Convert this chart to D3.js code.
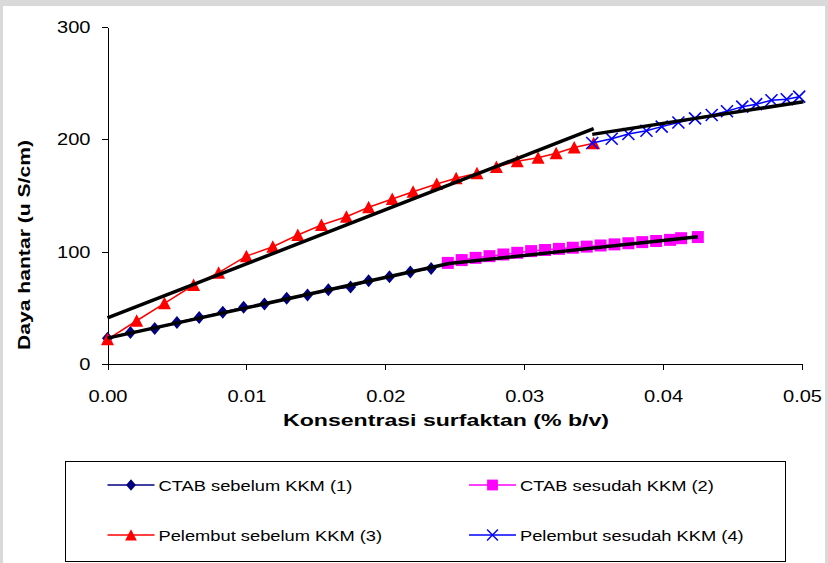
<!DOCTYPE html>
<html>
<head>
<meta charset="utf-8">
<script src="https://cdn.jsdelivr.net/npm/d3@7"></script>
<style>
  html, body { margin: 0; padding: 0; background: #d9d9d9; }
  svg { display: block; font-family: Arial, "Liberation Sans", sans-serif; }
</style>
</head>
<body>
<div class="container"></div>
<script>
// CTAB sebelum KKM (1)
const ctab1X = [0, 0.00165, 0.0034, 0.005, 0.0066, 0.0083, 0.0098, 0.0113, 0.0129, 0.0144, 0.0159, 0.0175, 0.0188, 0.0203, 0.0218, 0.0233];
const ctab1Y = [23, 28, 31.5, 37, 41.5, 46, 50.5, 53.5, 58.5, 61.5, 66, 68.5, 74, 77.7, 82, 85];
// CTAB sesudah KKM (2)
const ctab2X = [0.0245, 0.0255, 0.0265, 0.0275, 0.0285, 0.0295, 0.0305, 0.0315, 0.0325, 0.0335, 0.0345, 0.0355, 0.0365, 0.0375, 0.0385, 0.0395, 0.0405, 0.0413, 0.0425];
const ctab2Y = [90, 92.5, 94.5, 96, 97.5, 99, 100.5, 101.5, 102.5, 103.5, 104.5, 105.5, 106.5, 107.5, 108.5, 109.5, 110.5, 112, 113];
// Pelembut sebelum KKM (3)
const pel1X = [0, 0.0021, 0.0041, 0.0062, 0.008, 0.01, 0.0119, 0.0137, 0.0154, 0.0172, 0.0188, 0.0205, 0.022, 0.0237, 0.0251, 0.0266, 0.028, 0.0295, 0.031, 0.0323, 0.0336, 0.035];
const pel1Y = [22, 38.5, 54, 70.3, 81.3, 96, 104.4, 114.8, 123.7, 131.1, 139.5, 146.9, 153.4, 160.2, 165.3, 169.8, 175.4, 180.5, 183.6, 187.6, 192.7, 196.5];
// Pelembut sesudah KKM (4)
const pel2X = [0.0349, 0.0363, 0.0375, 0.0388, 0.0399, 0.0411, 0.0423, 0.0435, 0.0446, 0.0457, 0.0467, 0.0478, 0.0489, 0.0498];
const pel2Y = [196.7, 200.5, 204.8, 207.6, 211.3, 215, 218.7, 221.7, 225, 229.1, 231.3, 234.8, 235.7, 238];
// trendlines, [start, end] points
const trend1 = [[0, 23], [0.0246, 89.5]];
const trend2 = [[0.0246, 89.5], [0.0425, 113.3]];
const trend3 = [[0, 41], [0.035, 209.5]];
const trend4 = [[0.0349, 204.4], [0.0501, 233.5]];

const xTicks = [0, 0.01, 0.02, 0.03, 0.04, 0.05];
const yTicks = [0, 100, 200, 300];
const legendNames = ["CTAB sebelum KKM (1)", "CTAB sesudah KKM (2)", "Pelembut sebelum KKM (3)", "Pelembut sesudah KKM (4)"];

const w = 828, h = 563;
const stretch = 1.18;

const svg = d3.select("div.container").append("svg").attr("width", w).attr("height", h);
svg.append("rect").attr("x", 3).attr("y", 6).attr("width", 822).attr("height", h - 6).attr("fill", "#fff");

const xScale = d3.scaleLinear().domain([0, 0.05]).range([107.5, 802]);
const yScale = d3.scaleLinear().domain([0, 300]).range([364, 27]);

const fitText = (sel, k) => sel.each(function () {
    const len = this.getComputedTextLength();
    d3.select(this).attr("textLength", len * k).attr("lengthAdjust", "spacingAndGlyphs");
});

// axes
const gx = svg.append("g").attr("transform", "translate(0," + yScale(0) + ")")
    .call(d3.axisBottom(xScale).tickValues(xTicks).tickFormat(d3.format(".2f")).tickSize(6).tickSizeOuter(0).tickPadding(20));
const gy = svg.append("g").attr("transform", "translate(" + xScale(0) + ",0)")
    .call(d3.axisLeft(yScale).tickValues(yTicks).tickSize(6).tickSizeOuter(0).tickPadding(11));
[gx, gy].forEach(g => {
    g.selectAll("path, line").attr("stroke", "#000").attr("shape-rendering", "crispEdges");
    g.selectAll("text").attr("font-size", 17).attr("fill", "#000").attr("font-family", "Arial, 'Liberation Sans', sans-serif").call(fitText, stretch);
});

svg.append("text").attr("x", 446).attr("y", 426).attr("text-anchor", "middle")
    .attr("font-size", 16.5).attr("font-weight", "bold").attr("textLength", 326).attr("lengthAdjust", "spacingAndGlyphs")
    .text("Konsentrasi surfaktan (% b/v)");
svg.append("text").attr("transform", "translate(30,245) rotate(-90)").attr("text-anchor", "middle")
    .attr("font-size", 16.5).attr("font-weight", "bold").attr("textLength", 210).attr("lengthAdjust", "spacingAndGlyphs")
    .text("Daya hantar (u S/cm)");

// markers
const diamond = "M0,-6.5L5.5,0L0,6.5L-5.5,0Z";
const square = "M-6,-6H6V6H-6Z";
const triangle = "M0,-6.5L6.5,6L-6.5,6Z";
const cross = "M-6,-6L6,6M-6,6L6,-6";

const series = [
    { xs: ctab1X, ys: ctab1Y, color: "#000080", marker: diamond, filled: true },
    { xs: ctab2X, ys: ctab2Y, color: "#ff00ff", marker: square, filled: true },
    { xs: pel1X, ys: pel1Y, color: "#ff0000", marker: triangle, filled: true },
    { xs: pel2X, ys: pel2Y, color: "#0000ff", marker: cross, filled: false }
];

const line = d3.line().x(d => xScale(d[0])).y(d => yScale(d[1]));

series.forEach(s => {
    const pts = s.xs.map((x, i) => [x, s.ys[i]]);
    svg.append("path").datum(pts).attr("d", line).attr("fill", "none").attr("stroke", s.color).attr("stroke-width", 1.5);
    svg.selectAll(null).data(pts).enter().append("path")
        .attr("transform", d => "translate(" + xScale(d[0]) + "," + yScale(d[1]) + ")")
        .attr("d", s.marker)
        .attr("fill", s.filled ? s.color : "none")
        .attr("stroke", s.filled ? "none" : s.color)
        .attr("stroke-width", 1.6);
});

[trend1, trend2, trend3, trend4].forEach(t => {
    svg.append("path").datum(t).attr("d", line).attr("fill", "none").attr("stroke", "#000").attr("stroke-width", 3.5);
});

// legend
svg.append("rect").attr("x", 65.5).attr("y", 461.5).attr("width", 720).attr("height", 100)
    .attr("fill", "#fff").attr("stroke", "#000").attr("stroke-width", 1);
const legendPos = [[107.5, 485], [469, 485], [107.5, 535], [469, 535]];
series.forEach((s, i) => {
    const [lx, ly] = legendPos[i];
    const g = svg.append("g").attr("transform", "translate(" + lx + "," + ly + ")");
    g.append("line").attr("x1", 0).attr("x2", 47).attr("stroke", s.color).attr("stroke-width", 1.5);
    g.append("path").attr("transform", "translate(23.5,0) scale(0.9)").attr("d", s.marker)
        .attr("fill", s.filled ? s.color : "none").attr("stroke", s.filled ? "none" : s.color).attr("stroke-width", 1.6);
    g.append("text").attr("x", 51).attr("y", 5.5).attr("font-size", 15.5).text(legendNames[i]).call(fitText, stretch);
});
</script>
</body>
</html>
